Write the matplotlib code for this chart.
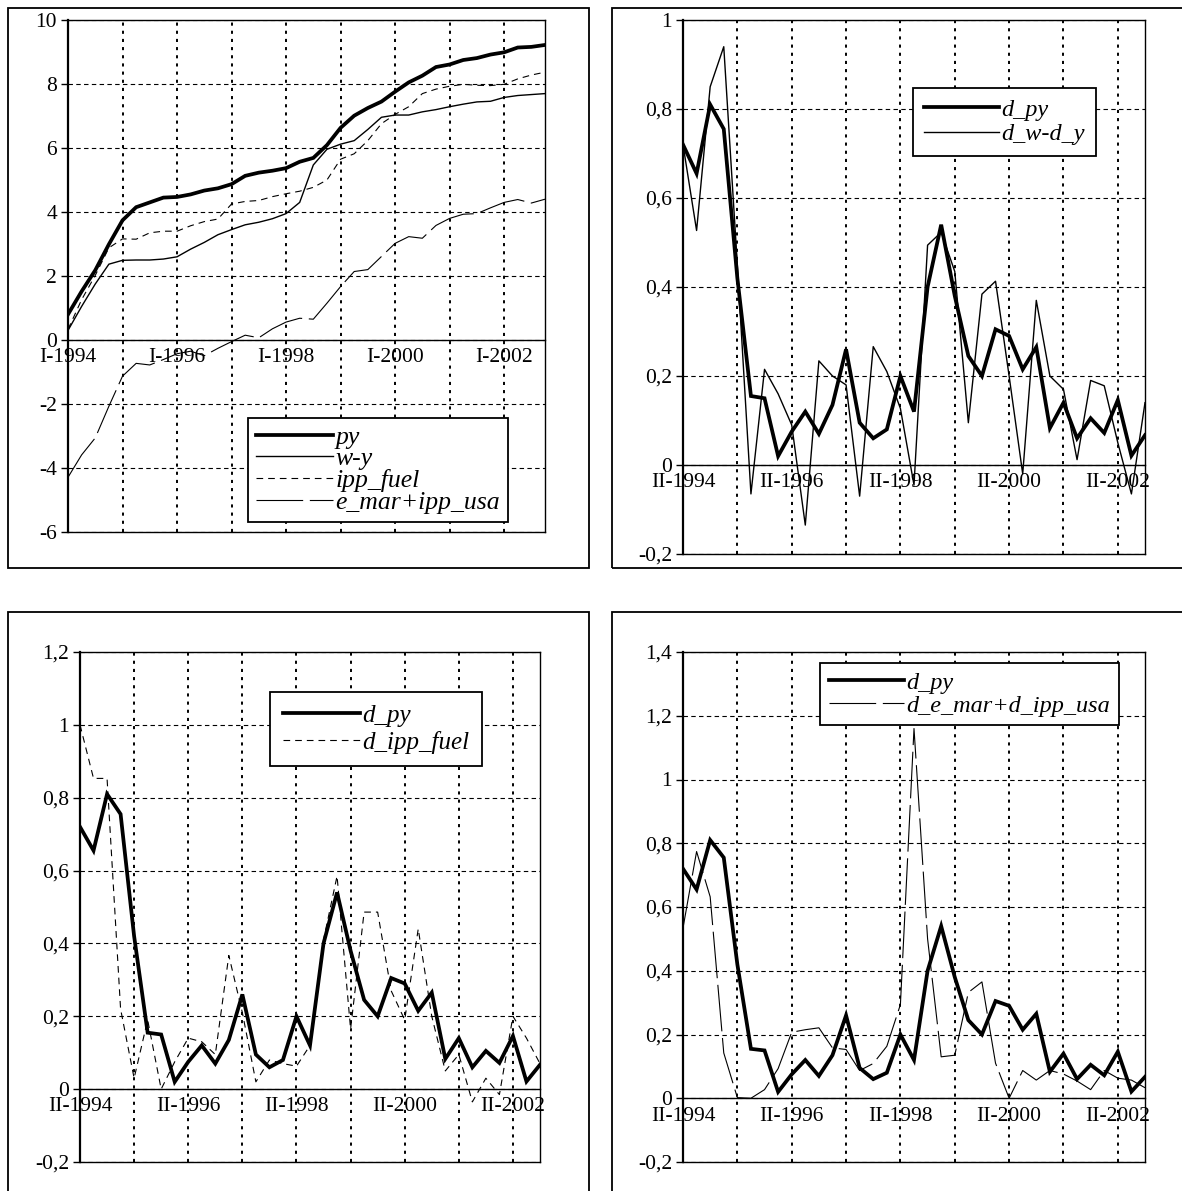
import numpy as np
import matplotlib.pyplot as plt
from matplotlib.patches import Rectangle
from matplotlib.ticker import FixedLocator, FuncFormatter

plt.rcParams['font.family'] = ['Liberation Serif', 'DejaVu Serif']

W, H = 1182, 1191

# levels, I-1994 .. IV-2002
py = [0.8, 1.52, 2.18, 2.99, 3.74, 4.15, 4.30, 4.45, 4.47, 4.55, 4.67, 4.74,
      4.87, 5.13, 5.23, 5.29, 5.37, 5.57, 5.69, 6.09, 6.63, 7.01, 7.25, 7.45,
      7.76, 8.05, 8.26, 8.53, 8.61, 8.75, 8.81, 8.92, 8.99, 9.14, 9.16, 9.22]
w_y = [0.3, 1.05, 1.75, 2.37, 2.49, 2.5, 2.5, 2.53, 2.6, 2.84, 3.05, 3.29,
       3.45, 3.6, 3.68, 3.79, 3.95, 4.3, 5.47, 5.96, 6.12, 6.23, 6.58, 6.96,
       7.03, 7.03, 7.13, 7.2, 7.29, 7.37, 7.44, 7.46, 7.58, 7.64, 7.67, 7.7]
ipp_fuel = [0.33, 1.26, 2.02, 2.88, 3.16, 3.15, 3.35, 3.4, 3.4, 3.57, 3.7, 3.78,
            4.25, 4.33, 4.36, 4.48, 4.57, 4.65, 4.77, 5.0, 5.65, 5.82, 6.23, 6.76,
            7.05, 7.29, 7.7, 7.84, 7.93, 7.99, 7.96, 7.95, 7.99, 8.16, 8.28, 8.37]
e_mar_ipp_usa = [-4.29, -3.59, -3.06, -2.07, -1.13, -0.73, -0.78, -0.61, -0.43, -0.35, -0.49, -0.26,
                 -0.05, 0.15, 0.07, 0.35, 0.56, 0.68, 0.65, 1.15, 1.67, 2.14, 2.2, 2.61,
                 3.02, 3.23, 3.18, 3.58, 3.8, 3.93, 3.95, 4.13, 4.3, 4.39, 4.28, 4.4]

# differences, II-1994 .. IV-2002
d_py = [0.72, 0.655, 0.81, 0.755, 0.42, 0.155, 0.15, 0.02, 0.075, 0.12, 0.07, 0.135,
        0.26, 0.095, 0.06, 0.08, 0.20, 0.12, 0.40, 0.54, 0.38, 0.245, 0.20, 0.305,
        0.29, 0.215, 0.265, 0.083, 0.14, 0.06, 0.105, 0.072, 0.146, 0.021, 0.067]
d_w_d_y = [0.72, 0.527, 0.85, 0.94, 0.45, -0.065, 0.215, 0.16, 0.09, -0.135, 0.234, 0.2,
           0.18, -0.07, 0.266, 0.21, 0.127, -0.045, 0.494, 0.523, 0.435, 0.095, 0.384, 0.413,
           0.2, -0.02, 0.37, 0.2, 0.17, 0.012, 0.19, 0.178, 0.05, -0.065, 0.14]
d_ipp_fuel = [1.0, 0.853, 0.853, 0.22, 0.03, 0.19, 0.0, 0.075, 0.14, 0.13, 0.095, 0.367,
              0.21, 0.02, 0.08, 0.07, 0.063, 0.12, 0.41, 0.585, 0.165, 0.486, 0.486, 0.27,
              0.19, 0.44, 0.2, 0.05, 0.095, -0.035, 0.03, -0.015, 0.2, 0.14, 0.07]
d_e_mar_d_ipp_usa = [0.534, 0.774, 0.632, 0.142, 0.002, 0.0, 0.027, 0.093, 0.207, 0.215, 0.221, 0.158,
                     0.153, 0.087, 0.109, 0.163, 0.294, 1.16, 0.5, 0.13, 0.135, 0.332, 0.365, 0.11,
                     0.0, 0.087, 0.057, 0.087, 0.076, 0.054, 0.027, 0.087, 0.063, 0.057, 0.033]

labels_lvl = ['I-1994', 'I-1996', 'I-1998', 'I-2000', 'I-2002']
labels_diff = ['II-1994', 'II-1996', 'II-1998', 'II-2000', 'II-2002']

THICK = dict(color='black', lw=2.7, solid_joinstyle='miter')
THIN = dict(color='black', lw=1.0)
SHORTDASH = dict(color='black', lw=0.8, ls=(0, (6, 4.5)))
LONGDASH = dict(color='black', lw=0.8, ls=(0, (42, 6)))

fig = plt.figure(figsize=(W / 100, H / 100), dpi=100)


def px_rect(x0, y0, x1, y1):
    return [x0 / W, 1 - y1 / H, (x1 - x0) / W, (y1 - y0) / H]


def comma(v, pos):
    s = '%g' % round(v, 2)
    return s.replace('.', ',')


def panel(box, plot, ylim, ystep, xlabels, n):
    fig.add_artist(Rectangle((box[0] / W, 1 - box[3] / H), (box[2] - box[0]) / W,
                             (box[3] - box[1]) / H, transform=fig.transFigure,
                             fill=False, edgecolor='black', lw=1.3))
    ax = fig.add_axes(px_rect(*plot))
    ax.set_xlim(0, n - 1)
    ax.set_ylim(*ylim)
    ax.yaxis.set_major_locator(FixedLocator(np.arange(ylim[0], ylim[1] + ystep / 2, ystep)))
    ax.yaxis.set_major_formatter(FuncFormatter(comma))
    ticks = list(range(0, n, 4))
    ax.set_xticks(ticks)
    ax.set_xticklabels([xlabels[k // 2] if k % 2 == 0 else '' for k in range(len(ticks))])
    ax.spines['bottom'].set_position(('data', 0))
    ax.spines['bottom'].set_linewidth(1.0)
    ax.spines['left'].set_linewidth(1.6)
    ax.spines['top'].set_linewidth(1.0)
    ax.spines['right'].set_linewidth(1.0)
    ax.plot([0, 1], [0, 0], transform=ax.transAxes, color='black', lw=1.0, clip_on=False)
    ax.tick_params(axis='x', length=0, pad=6, labelsize=15.5)
    ax.tick_params(axis='y', length=5, width=1.0, pad=3, labelsize=15.5)
    ax.grid(axis='x', color='black', lw=1.4, ls=(0, (1.6, 2.6)))
    ax.grid(axis='y', color='black', lw=0.8, ls=(0, (4, 3)))
    ax.set_axisbelow(True)
    return ax


def legend(ax, handles_labels, x0, y0, size, spacing, pad, hlen):
    hs, ls = zip(*handles_labels)
    ax.legend(hs, ls, loc='upper left', bbox_to_anchor=(x0 / W, 1 - y0 / H),
              bbox_transform=fig.transFigure, borderaxespad=0, frameon=True,
              fancybox=False, edgecolor='black', framealpha=1,
              prop=dict(family='Liberation Serif', style='italic', size=size),
              handlelength=hlen, handletextpad=0.1, labelspacing=spacing,
              borderpad=pad)
    ax.get_legend().get_frame().set_linewidth(1.3)


# panel A: levels
n = len(py)
x = np.arange(n)
ax = panel((8, 8, 589, 568), (68, 20, 545, 532), (-6, 10), 2, labels_lvl, n)
l1, = ax.plot(x, py, **THICK)
l2, = ax.plot(x, w_y, **THIN)
l3, = ax.plot(x, ipp_fuel, **SHORTDASH)
l4, = ax.plot(x, e_mar_ipp_usa, **LONGDASH)
legend(ax, [(l1, 'py'), (l2, 'w-y'), (l3, 'ipp_fuel'), (l4, 'e_mar+ipp_usa')],
       248, 418, 18.5, -0.05, 0.3, 3.0)

n = len(d_py)
x = np.arange(n)

# panel B
ax = panel((612, 8, 1200, 568), (683, 20, 1145, 554), (-0.2, 1.0), 0.2, labels_diff, n)
l1, = ax.plot(x, d_py, **THICK)
l2, = ax.plot(x, d_w_d_y, **THIN)
legend(ax, [(l1, 'd_py'), (l2, 'd_w-d_y')], 913, 88, 17.5, 0.1, 0.45, 3.1)

# panel C
ax = panel((8, 612, 589, 1200), (80, 652, 540, 1162), (-0.2, 1.2), 0.2, labels_diff, n)
l1, = ax.plot(x, d_py, **THICK)
l2, = ax.plot(x, d_ipp_fuel, **SHORTDASH)
legend(ax, [(l1, 'd_py'), (l2, 'd_ipp_fuel')], 270, 692, 18, 0.15, 0.5, 3.1)

# panel D
ax = panel((612, 612, 1200, 1200), (683, 652, 1145, 1162), (-0.2, 1.4), 0.2, labels_diff, n)
l1, = ax.plot(x, d_py, **THICK)
l2, = ax.plot(x, d_e_mar_d_ipp_usa, **LONGDASH)
legend(ax, [(l1, 'd_py'), (l2, 'd_e_mar+d_ipp_usa')], 820, 663, 17.5, 0.05, 0.35, 3.1)

fig.savefig('out.png', dpi=100)
